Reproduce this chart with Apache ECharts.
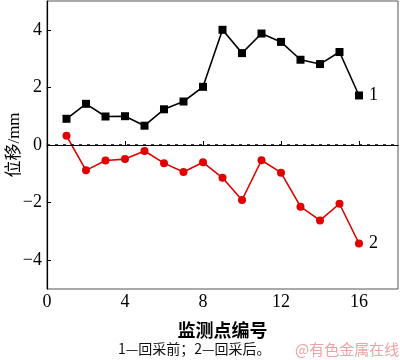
<!DOCTYPE html>
<html><head><meta charset="utf-8">
<script src="https://cdn.jsdelivr.net/npm/echarts@6/dist/echarts.min.js"></script>
<style>html,body{margin:0;padding:0;background:#fff}#c{width:400px;height:360px}</style>
</head><body><div id="c"></div>
<script>
const points = [1,2,3,4,5,6,7,8,9,10,11,12,13,14,15,16];
const before = [0.91,1.43,0.99,1.00,0.67,1.24,1.51,2.02,4.00,3.19,3.87,3.58,2.96,2.81,3.23,1.72];
const after = [0.32,-0.88,-0.54,-0.49,-0.21,-0.63,-0.94,-0.60,-1.14,-1.91,-0.53,-0.96,-2.14,-2.62,-2.04,-3.42];
const seriesNames = ['1','2'];
const xTitle = '监测点编号';
const yTitle = '位移/mm';
const caption = '1—回采前；2—回采后。';
const watermark = '@有色金属在线';

const serif = '"Liberation Serif","Noto Sans CJK SC",serif';
const cjk = '"Noto Sans CJK SC",sans-serif';
function pairs(v){return points.map((x,i)=>[x,v[i]]);}
function endLabel(v){
  return pairs(v).map((p,i)=> i===v.length-1 ? {value:p,label:{show:true}} : p);
}
const chart = echarts.init(document.getElementById('c'));
chart.setOption({
  animation:false,
  grid:{left:47,right:2,top:1,bottom:71,show:true,borderColor:'#555',borderWidth:1,
    containLabel:false,outerBoundsMode:'none'},
  xAxis:{type:'value',min:0,max:18,interval:4,
    axisLine:{lineStyle:{color:'#000',width:1.2}},
    axisTick:{inside:true,length:4,lineStyle:{color:'#000'}},
    axisLabel:{showMaxLabel:false,color:'#000',fontFamily:serif,fontSize:18,margin:4},
    splitLine:{show:false},
    name:xTitle,nameLocation:'middle',nameGap:32,nameMoveOverlap:false,
    nameTextStyle:{fontFamily:cjk,fontWeight:'bold',fontSize:18,color:'#000'}},
  yAxis:{type:'value',min:-5,max:5,splitNumber:5,
    axisLine:{lineStyle:{color:'#000',width:1.2}},
    axisTick:{inside:true,length:4,lineStyle:{color:'#000'}},
    axisLabel:{showMinLabel:false,showMaxLabel:false,color:'#000',fontFamily:serif,fontSize:18,margin:5,
      formatter:v=>String(v).replace('-','\u2212')},
    splitLine:{show:false},
    name:yTitle,nameLocation:'middle',nameGap:24,nameMoveOverlap:false,
    nameTextStyle:{fontFamily:serif,fontSize:17,color:'#000'}},
  series:[
    {name:seriesNames[0],type:'line',data:endLabel(before),symbol:'rect',symbolSize:8,
     lineStyle:{color:'#000',width:1.6},itemStyle:{color:'#000'},
     label:{show:false,position:'right',distance:6,formatter:seriesNames[0],fontFamily:serif,fontSize:18,color:'#000'},
     markLine:{silent:true,symbol:'none',label:{show:false},
       lineStyle:{color:'#000',type:[3,5],width:1.5},data:[{yAxis:0}]}},
    {name:seriesNames[1],type:'line',data:endLabel(after),symbol:'circle',symbolSize:8,
     lineStyle:{color:'#e00000',width:1.6},itemStyle:{color:'#e00000'},
     label:{show:false,position:'right',distance:6,formatter:seriesNames[1],fontFamily:serif,fontSize:18,color:'#000'}}
  ],
  graphic:[
    {type:'text',left:118,top:342,style:{text:caption,font:'14px '+cjk,fill:'#111'}},
    {type:'text',left:295,top:342,style:{text:watermark,font:'15px '+cjk,fill:'#eba3a3'}}
  ]
});
</script></body></html>
